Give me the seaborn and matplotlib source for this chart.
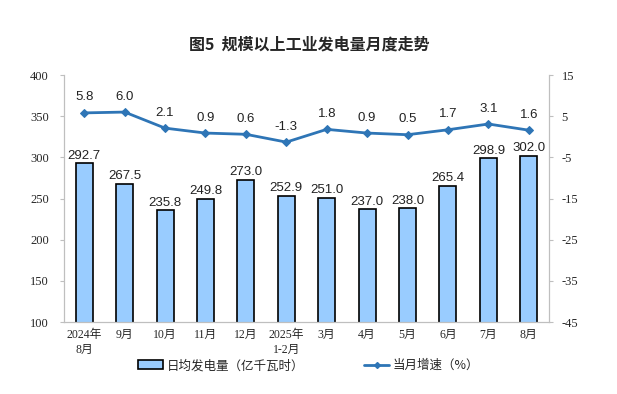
import numpy as np
import pandas as pd
import matplotlib
matplotlib.use("Agg")
import matplotlib.pyplot as plt
import seaborn as sns
from matplotlib.patches import Patch
from matplotlib.lines import Line2D

# Data
months = ["2024年\n8月", "9月", "10月", "11月", "12月", "2025年\n1-2月",
          "3月", "4月", "5月", "6月", "7月", "8月"]
daily_output = [292.7, 267.5, 235.8, 249.8, 273.0, 252.9,
                251.0, 237.0, 238.0, 265.4, 298.9, 302.0]
growth = [5.8, 6.0, 2.1, 0.9, 0.6, -1.3, 1.8, 0.9, 0.5, 1.7, 3.1, 1.6]

df = pd.DataFrame({"month": months, "output": daily_output, "growth": growth})
df["pos"] = np.arange(len(df))

sns.set_style("white")
plt.rcParams["font.family"] = ["Liberation Sans", "Noto Sans CJK SC"]
plt.rcParams["axes.unicode_minus"] = False

bar_color = "#99CCFF"
line_color = "#2E75B6"

fig = plt.figure(figsize=(6.17, 3.94), dpi=100)
ax = fig.add_axes([0.1037, 0.1827, 0.7861, 0.6269])

sns.barplot(data=df, x="month", y="output", color=bar_color, edgecolor="black",
            linewidth=1.2, width=0.42, saturation=1, ax=ax)
ax.set_ylim(100, 400)
ax.set_yticks(range(100, 401, 50))
ax.set_xlim(-0.5, len(df) - 0.5)
ax.set_xlabel("")
ax.set_ylabel("")

for i, v in enumerate(daily_output):
    ax.text(i, v + 2, f"{v:.1f}", ha="center", va="bottom", fontsize=9.5,
            color="#222222")

ax2 = ax.twinx()
sns.lineplot(data=df, x="pos", y="growth", color=line_color, marker="D",
             markersize=4, linewidth=2, markeredgecolor=line_color, ax=ax2)
ax2.set_ylim(-45, 15)
ax2.set_yticks(range(-45, 16, 10))
ax2.set_xlim(-0.5, len(df) - 0.5)
ax2.set_ylabel("")
ax2.set_xlabel("")

for i, v in enumerate(growth):
    ax2.text(i, v + 2.3, f"{v:.1f}", ha="center", va="bottom", fontsize=9.5,
             color="#222222")

# axes styling
for a in (ax, ax2):
    a.spines["top"].set_visible(False)
    for s in ("left", "right", "bottom"):
        a.spines[s].set_color("#BFBFBF")
        a.spines[s].set_linewidth(0.8)

ax.set_xticks(np.arange(len(df)))
ax.set_xticklabels(months, fontsize=8.5, family=["Liberation Serif", "Noto Sans CJK SC"],
                   linespacing=1.35)
ax.set_xticks(np.arange(-0.5, len(df), 1), minor=True)
ax.tick_params(axis="x", which="major", length=0, pad=5)
ax.tick_params(axis="x", which="minor", length=3, color="#BFBFBF", width=0.8)
ax.tick_params(axis="y", length=3, color="#BFBFBF", width=0.8, pad=8)
for lab in ax.get_yticklabels():
    lab.set_family("Liberation Serif")
    lab.set_fontsize(9)
for lab in ax2.get_yticklabels():
    lab.set_family("Liberation Serif")
    lab.set_fontsize(9)
ax2.tick_params(axis="y", length=3, color="#BFBFBF", width=0.8, pad=6)

fig.text(0.502, 0.888, "图5  规模以上工业发电量月度走势", ha="center", va="center",
         fontsize=11.5, fontweight="bold", family=["Noto Sans CJK SC"])

handles = [
    Patch(facecolor=bar_color, edgecolor="black", linewidth=1.2),
    Line2D([0], [0], color=line_color, linewidth=2, marker="D", markersize=3),
]
labels = ["日均发电量（亿千瓦时）", "当月增速（%）"]
fig.legend(handles, labels, loc="center", bbox_to_anchor=(0.5, 0.072), ncol=2,
           frameon=False, columnspacing=4.8, handlelength=2.0,
           handletextpad=0.3, prop={"family": ["Noto Sans CJK SC"], "size": 9})

fig.savefig("out.png", dpi=100)
